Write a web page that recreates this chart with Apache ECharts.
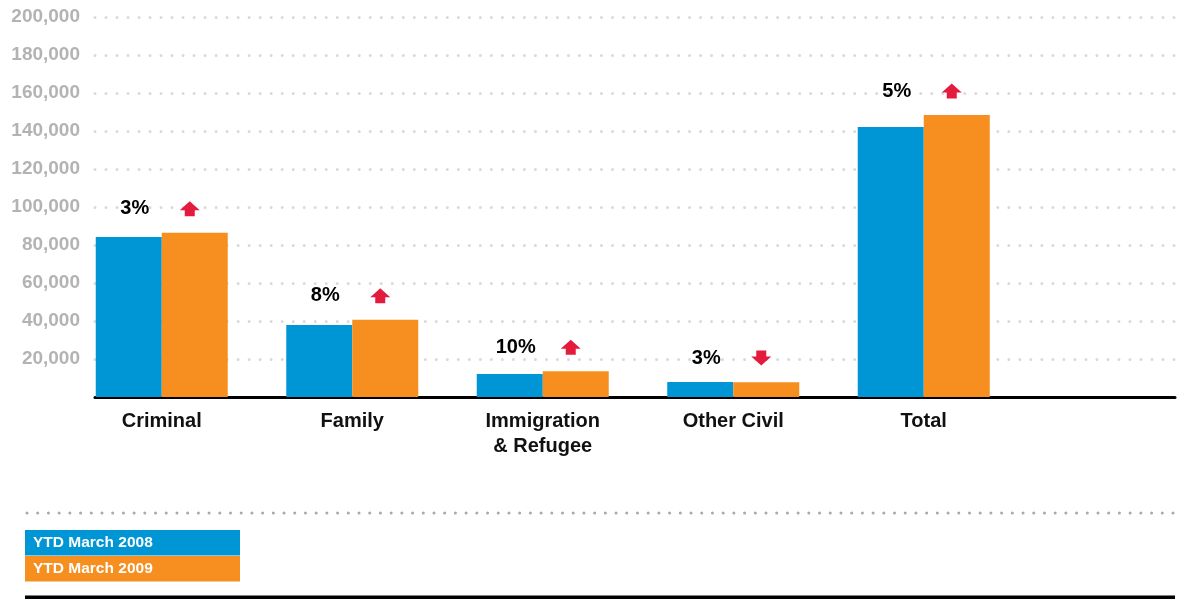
<!DOCTYPE html>
<html>
<head>
<meta charset="utf-8">
<title>Caseload YTD March 2008 vs 2009</title>
<script src="https://cdn.jsdelivr.net/npm/echarts@6/dist/echarts.min.js"></script>
<style>
  html, body { margin: 0; padding: 0; background: #fff; }
  #chart { width: 1182px; height: 599px; }
</style>
</head>
<body>
<div id="chart"></div>
<script>
// Case categories and yearly totals
const categories = ['Criminal', 'Family', 'Immigration\n& Refugee', 'Other Civil', 'Total'];
const seriesNames = ['YTD March 2008', 'YTD March 2009'];
const ytd2008 = [84200, 37900, 12100, 7900, 142100];
const ytd2009 = [86500, 40700, 13500, 7700, 148400];
// Year-over-year change, percent (negative = decrease)
const changePct = [3, 8, 10, -3, 5];
// Value axis ticks
const yMin = 0;
const yMax = 200000;
const yStep = 20000;

const BLUE = '#0096d6';
const ORANGE = '#f68f1f';
const RED = '#e31c3d';
const FONT = '"Liberation Sans", Arial, Helvetica, sans-serif';

const ARROW_UP = 'path://M10,0 L20,9 L15,9 L15,15 L5,15 L5,9 L0,9 Z';
const ARROW_DOWN = 'path://M5,0 L15,0 L15,6 L20,6 L10,15 L0,6 L5,6 Z';

const peak = ytd2008.map((v, i) => Math.max(v, ytd2009[i]));

const chart = echarts.init(document.getElementById('chart'), null, { renderer: 'canvas' });

const option = {
  animation: false,
  textStyle: { fontFamily: FONT },
  grid: [
    // bars
    { left: 66.5, width: 952.5, top: 17, bottom: 202, containLabel: false },
    // value scale, dotted guides and baseline
    { left: 95, right: 7, top: 17, bottom: 202, containLabel: false }
  ],
  xAxis: [
    {
      gridIndex: 0,
      type: 'category',
      data: categories,
      axisLine: { show: false },
      axisTick: { show: false },
      axisLabel: {
        margin: 12,
        fontSize: 20,
        fontWeight: 'bold',
        color: '#111',
        lineHeight: 25,
        fontFamily: FONT
      }
    },
    {
      gridIndex: 1,
      type: 'value',
      min: 0,
      max: 1,
      axisLine: { show: true, onZero: false, lineStyle: { color: '#000', width: 3 } },
      axisTick: { show: false },
      axisLabel: { show: false },
      splitLine: { show: false }
    }
  ],
  yAxis: [
    {
      gridIndex: 0,
      type: 'value',
      min: yMin,
      max: yMax,
      interval: yStep,
      axisLine: { show: false },
      axisTick: { show: false },
      axisLabel: { show: false },
      splitLine: { show: false }
    },
    {
      gridIndex: 1,
      type: 'value',
      min: yMin,
      max: yMax,
      interval: yStep,
      axisLine: { show: false },
      axisTick: { show: false },
      axisLabel: {
        margin: 15,
        fontSize: 19,
        fontWeight: 'bold',
        color: '#b3b3b3',
        fontFamily: FONT,
        formatter: v => (v === 0 ? '' : v.toLocaleString('en-US'))
      },
      splitLine: {
        show: true,
        lineStyle: { color: '#dadada', width: 3, type: [0.01, 11], cap: 'round' }
      }
    }
  ],
  series: [
    {
      name: seriesNames[0],
      type: 'bar',
      xAxisIndex: 0,
      yAxisIndex: 0,
      data: ytd2008,
      barWidth: 66,
      barGap: '0%',
      itemStyle: { color: BLUE }
    },
    {
      name: seriesNames[1],
      type: 'bar',
      xAxisIndex: 0,
      yAxisIndex: 0,
      data: ytd2009,
      barWidth: 66,
      barGap: '0%',
      itemStyle: { color: ORANGE }
    },
    // change arrows
    {
      type: 'scatter',
      xAxisIndex: 0,
      yAxisIndex: 0,
      silent: true,
      data: peak.map((v, i) => ({
        value: v,
        symbol: changePct[i] >= 0 ? ARROW_UP : ARROW_DOWN
      })),
      symbolSize: [20, 15],
      symbolOffset: [28, -24],
      itemStyle: { color: RED, opacity: 1 },
      z: 5
    },
    // change percentages
    {
      type: 'scatter',
      xAxisIndex: 0,
      yAxisIndex: 0,
      silent: true,
      data: peak,
      symbol: 'rect',
      symbolSize: 1,
      itemStyle: { color: 'rgba(0,0,0,0)', opacity: 1 },
      label: {
        show: true,
        position: 'inside',
        offset: [-27, -24],
        fontSize: 20,
        fontWeight: 'bold',
        color: '#000',
        opacity: 1,
        fontFamily: FONT,
        formatter: p => Math.abs(changePct[p.dataIndex]) + '%'
      },
      z: 5
    }
  ],
  graphic: [
    // dotted divider above the key
    {
      type: 'line',
      shape: { x1: 27, y1: 513, x2: 1180, y2: 513 },
      style: { stroke: '#a9a9a9', lineWidth: 3, lineDash: [0.01, 10.7], lineCap: 'round' },
      silent: true
    },
    // key swatches
    {
      type: 'rect',
      shape: { x: 25, y: 530, width: 215, height: 25.5 },
      style: { fill: BLUE },
      silent: true
    },
    {
      type: 'text',
      x: 33, y: 543,
      style: {
        text: seriesNames[0],
        fill: '#fff',
        font: 'bold 15.5px ' + FONT,
        textVerticalAlign: 'middle'
      },
      silent: true
    },
    {
      type: 'rect',
      shape: { x: 25, y: 556, width: 215, height: 25.5 },
      style: { fill: ORANGE },
      silent: true
    },
    {
      type: 'text',
      x: 33, y: 569,
      style: {
        text: seriesNames[1],
        fill: '#fff',
        font: 'bold 15.5px ' + FONT,
        textVerticalAlign: 'middle'
      },
      silent: true
    },
    // closing rule
    {
      type: 'rect',
      shape: { x: 25, y: 595.5, width: 1150, height: 3.5 },
      style: { fill: '#000' },
      silent: true
    }
  ]
};

chart.setOption(option);
</script>
</body>
</html>
